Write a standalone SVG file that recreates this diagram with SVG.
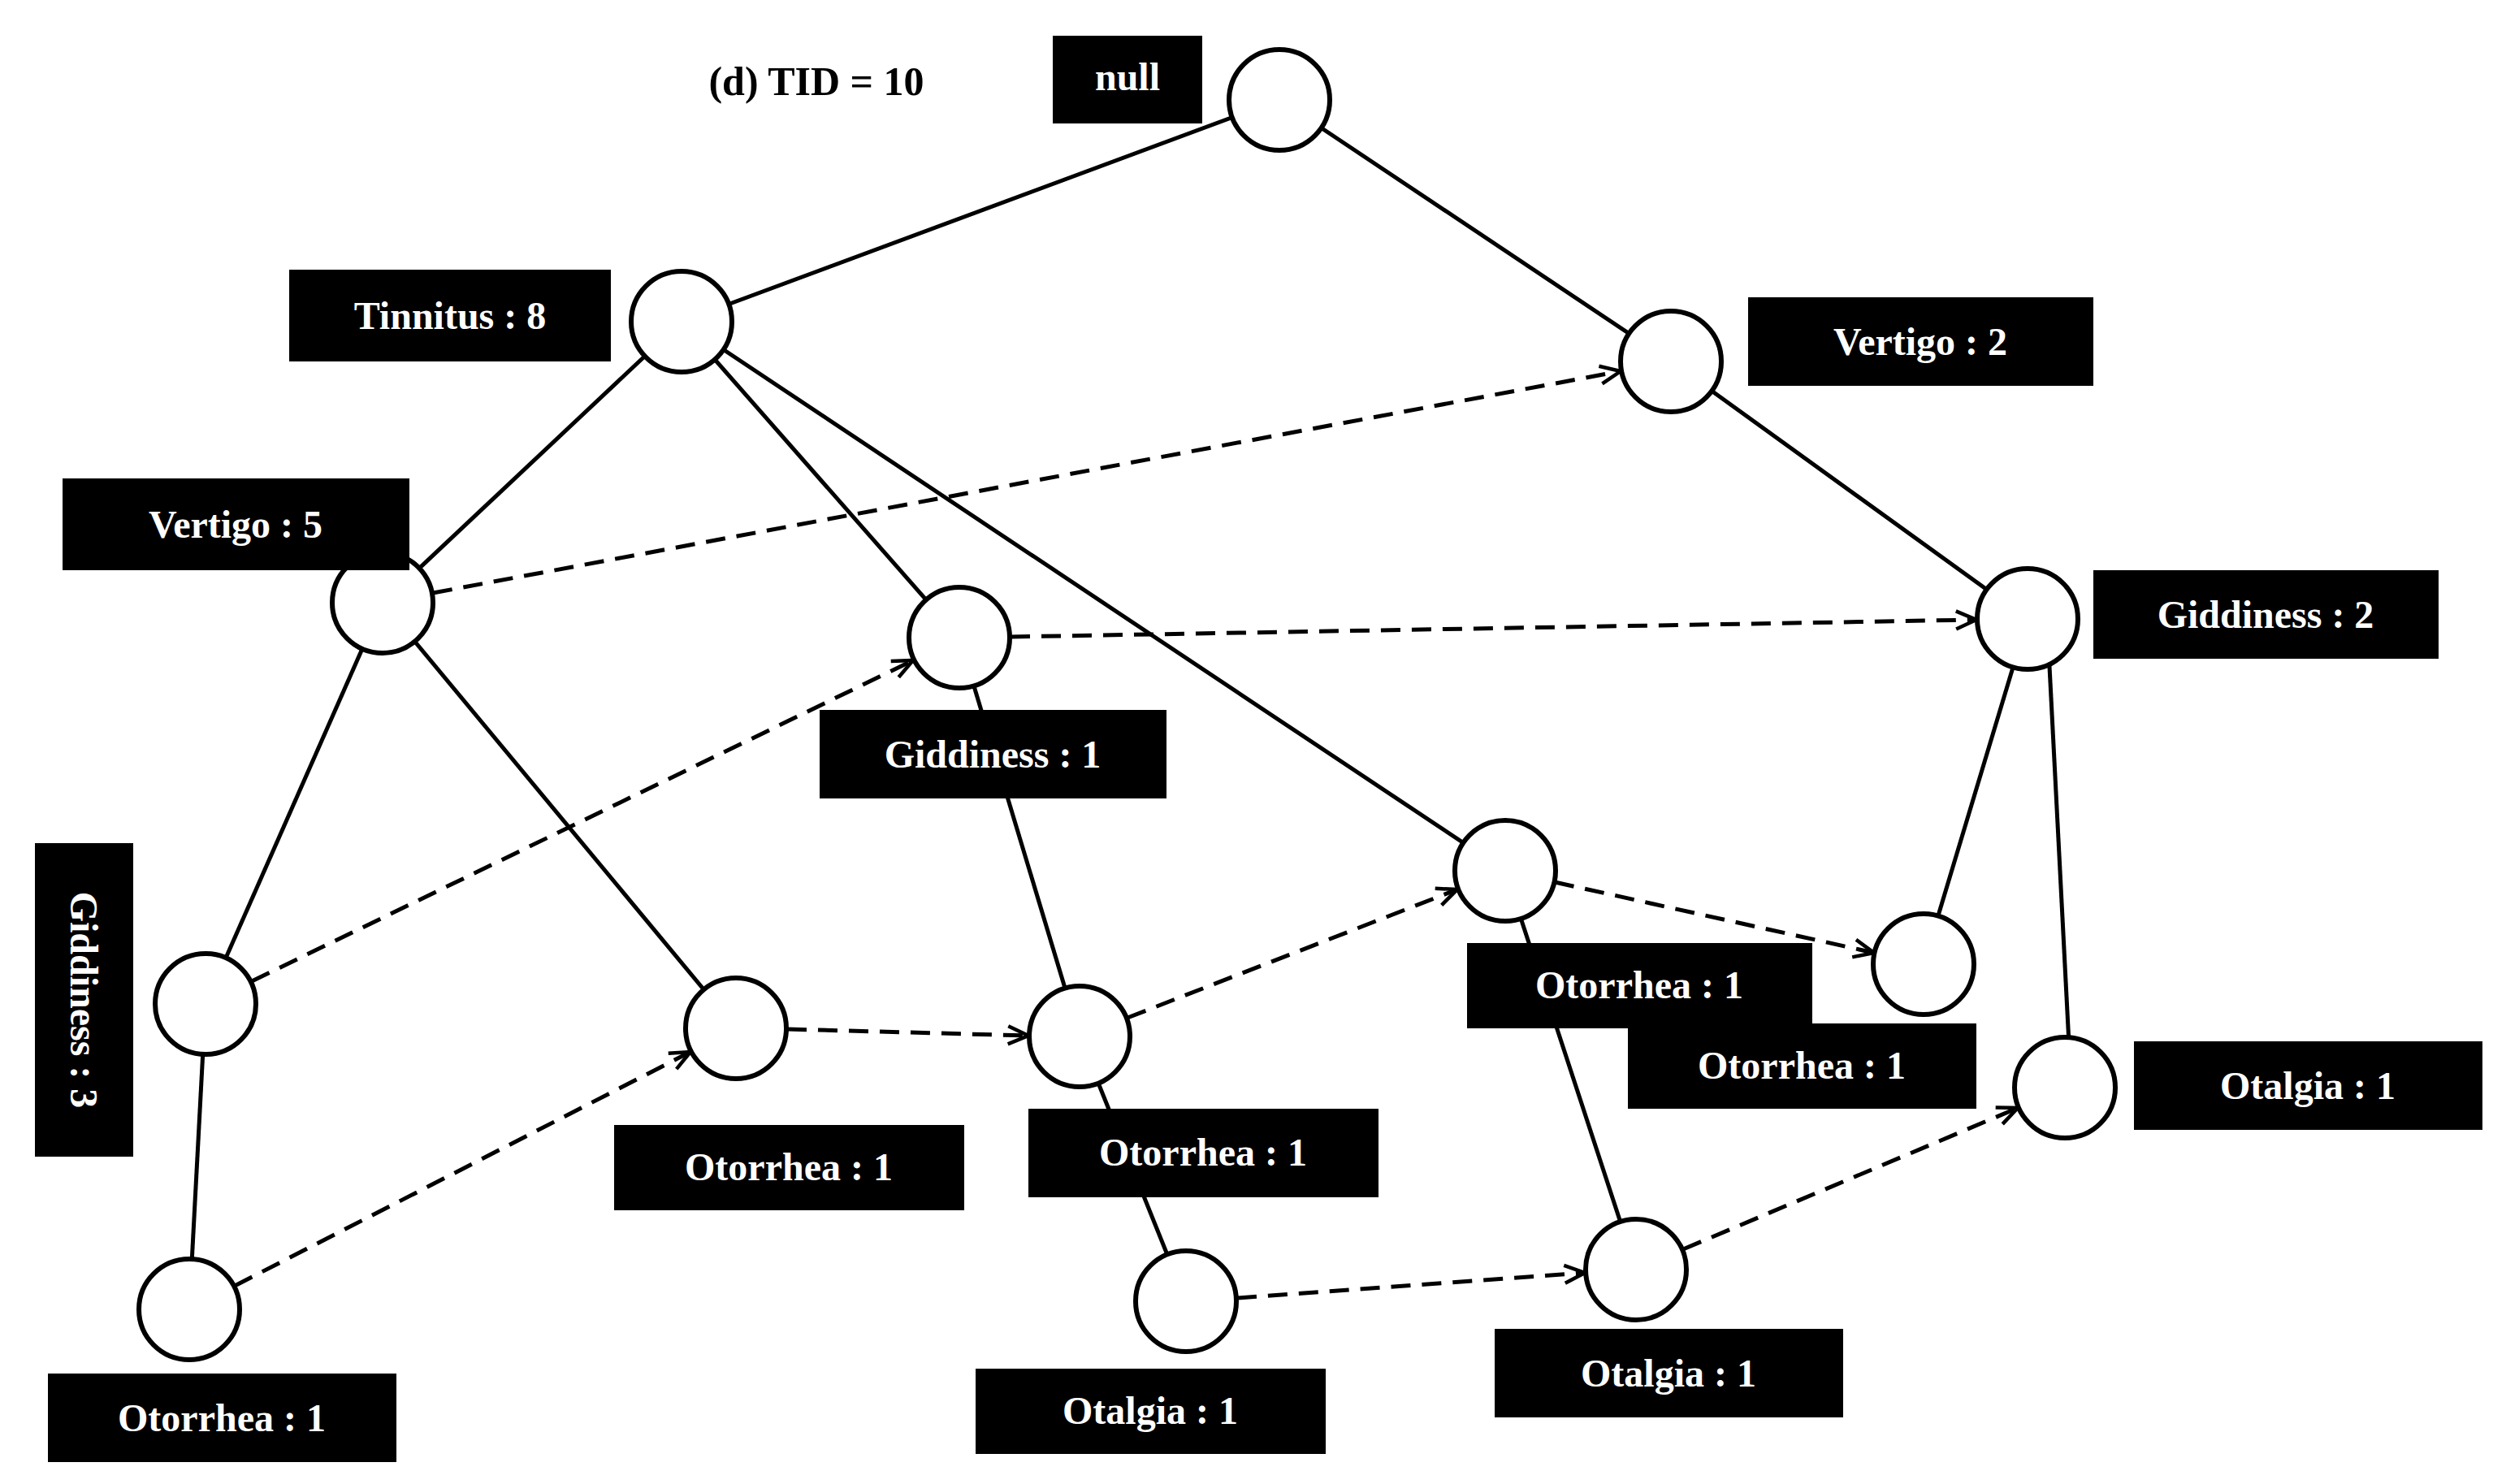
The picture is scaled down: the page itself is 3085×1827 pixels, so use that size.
<svg xmlns="http://www.w3.org/2000/svg" width="3085" height="1827" viewBox="0 0 3085 1827">
<style>
.e{stroke:#000;stroke-width:5;fill:none}
.d{stroke:#000;stroke-width:5;fill:none;stroke-dasharray:24 14;marker-end:url(#a)}
.n{fill:#fff;stroke:#000;stroke-width:6}
.l{fill:#000}
.t{fill:#fff;font-family:"Liberation Serif",serif;font-weight:bold;font-size:48px;text-anchor:middle;dominant-baseline:central}
</style>
<defs><marker id="a" markerWidth="30" markerHeight="30" refX="27" refY="15" orient="auto" markerUnits="userSpaceOnUse" viewBox="0 0 30 30"><path d="M2,4 L27,15 L2,26" fill="none" stroke="#000" stroke-width="4.5"/></marker></defs>
<rect width="3085" height="1827" fill="#fff"/>
<text x="1005" y="100" font-family="Liberation Serif,serif" font-weight="bold" font-size="50" text-anchor="middle" dominant-baseline="central">(d) TID = 10</text>
<g id="connectors">
<line class="e" x1="1575" y1="123" x2="839" y2="396"/>
<line class="e" x1="1575" y1="123" x2="2057" y2="445"/>
<line class="e" x1="839" y1="396" x2="471" y2="742"/>
<line class="e" x1="839" y1="396" x2="1181" y2="785"/>
<line class="e" x1="839" y1="396" x2="1853" y2="1072"/>
<line class="e" x1="2057" y1="445" x2="2496" y2="762"/>
<line class="e" x1="471" y1="742" x2="253" y2="1236"/>
<line class="e" x1="471" y1="742" x2="906" y2="1266"/>
<line class="e" x1="1181" y1="785" x2="1329" y2="1276"/>
<line class="e" x1="2496" y1="762" x2="2368" y2="1187"/>
<line class="e" x1="2522" y1="801" x2="2547" y2="1285"/>
<line class="e" x1="253" y1="1236" x2="233" y2="1612"/>
<line class="e" x1="1329" y1="1276" x2="1460" y2="1602"/>
<line class="e" x1="1853" y1="1072" x2="2014" y2="1563"/>
<path class="d" d="M533,730 L1995,457"/>
<path class="d" d="M1244,784 L2433,763"/>
<path class="d" d="M310,1208 L1124,813"/>
<path class="d" d="M969,1267 L1266,1275"/>
<path class="d" d="M1388,1253 L1794,1095"/>
<path class="d" d="M1914,1086 L2307,1173"/>
<path class="d" d="M289,1583 L850,1295"/>
<path class="d" d="M1523,1598 L1951,1567"/>
<path class="d" d="M2072,1538 L2484,1364"/>
</g>
<g id="null"><circle class="n" cx="1575" cy="123" r="62"/><rect class="l" x="1296" y="44" width="184" height="108"/><text class="t" x="1388" y="94">null</text></g>
<g id="tinnitus8"><circle class="n" cx="839" cy="396" r="62"/><rect class="l" x="356" y="332" width="396" height="113"/><text class="t" x="554" y="388">Tinnitus : 8</text></g>
<g id="vertigo2"><circle class="n" cx="2057" cy="445" r="62"/><rect class="l" x="2152" y="366" width="425" height="109"/><text class="t" x="2364" y="420">Vertigo : 2</text></g>
<g id="vertigo5"><circle class="n" cx="471" cy="742" r="62"/><rect class="l" x="77" y="589" width="427" height="113"/><text class="t" x="290" y="645">Vertigo : 5</text></g>
<g id="giddiness1"><circle class="n" cx="1181" cy="785" r="62"/><rect class="l" x="1009" y="874" width="427" height="109"/><text class="t" x="1222" y="928">Giddiness : 1</text></g>
<g id="giddiness2"><circle class="n" cx="2496" cy="762" r="62"/><rect class="l" x="2577" y="702" width="425" height="109"/><text class="t" x="2789" y="756">Giddiness : 2</text></g>
<g id="otorrhea_a"><circle class="n" cx="1853" cy="1072" r="62"/><rect class="l" x="1806" y="1161" width="425" height="105"/><text class="t" x="2018" y="1212">Otorrhea : 1</text></g>
<g id="otorrhea_b"><circle class="n" cx="2368" cy="1187" r="62"/><rect class="l" x="2004" y="1260" width="429" height="105"/><text class="t" x="2218" y="1311">Otorrhea : 1</text></g>
<g id="otalgia_r"><circle class="n" cx="2542" cy="1339" r="62"/><rect class="l" x="2627" y="1282" width="429" height="109"/><text class="t" x="2841" y="1336">Otalgia : 1</text></g>
<g id="giddiness3"><circle class="n" cx="253" cy="1236" r="62"/><rect class="l" x="43" y="1038" width="121" height="386"/><text class="t" transform="translate(103,1231) rotate(90)">Giddiness : 3</text></g>
<g id="otorrhea_c"><circle class="n" cx="906" cy="1266" r="62"/><rect class="l" x="756" y="1385" width="431" height="105"/><text class="t" x="971" y="1436">Otorrhea : 1</text></g>
<g id="otorrhea_d"><circle class="n" cx="1329" cy="1276" r="62"/><rect class="l" x="1266" y="1365" width="431" height="109"/><text class="t" x="1481" y="1418">Otorrhea : 1</text></g>
<g id="otorrhea_e"><circle class="n" cx="233" cy="1612" r="62"/><rect class="l" x="59" y="1691" width="429" height="109"/><text class="t" x="273" y="1745">Otorrhea : 1</text></g>
<g id="otalgia_a"><circle class="n" cx="1460" cy="1602" r="62"/><rect class="l" x="1201" y="1685" width="431" height="105"/><text class="t" x="1416" y="1736">Otalgia : 1</text></g>
<g id="otalgia_b"><circle class="n" cx="2014" cy="1563" r="62"/><rect class="l" x="1840" y="1636" width="429" height="109"/><text class="t" x="2054" y="1690">Otalgia : 1</text></g>
</svg>
